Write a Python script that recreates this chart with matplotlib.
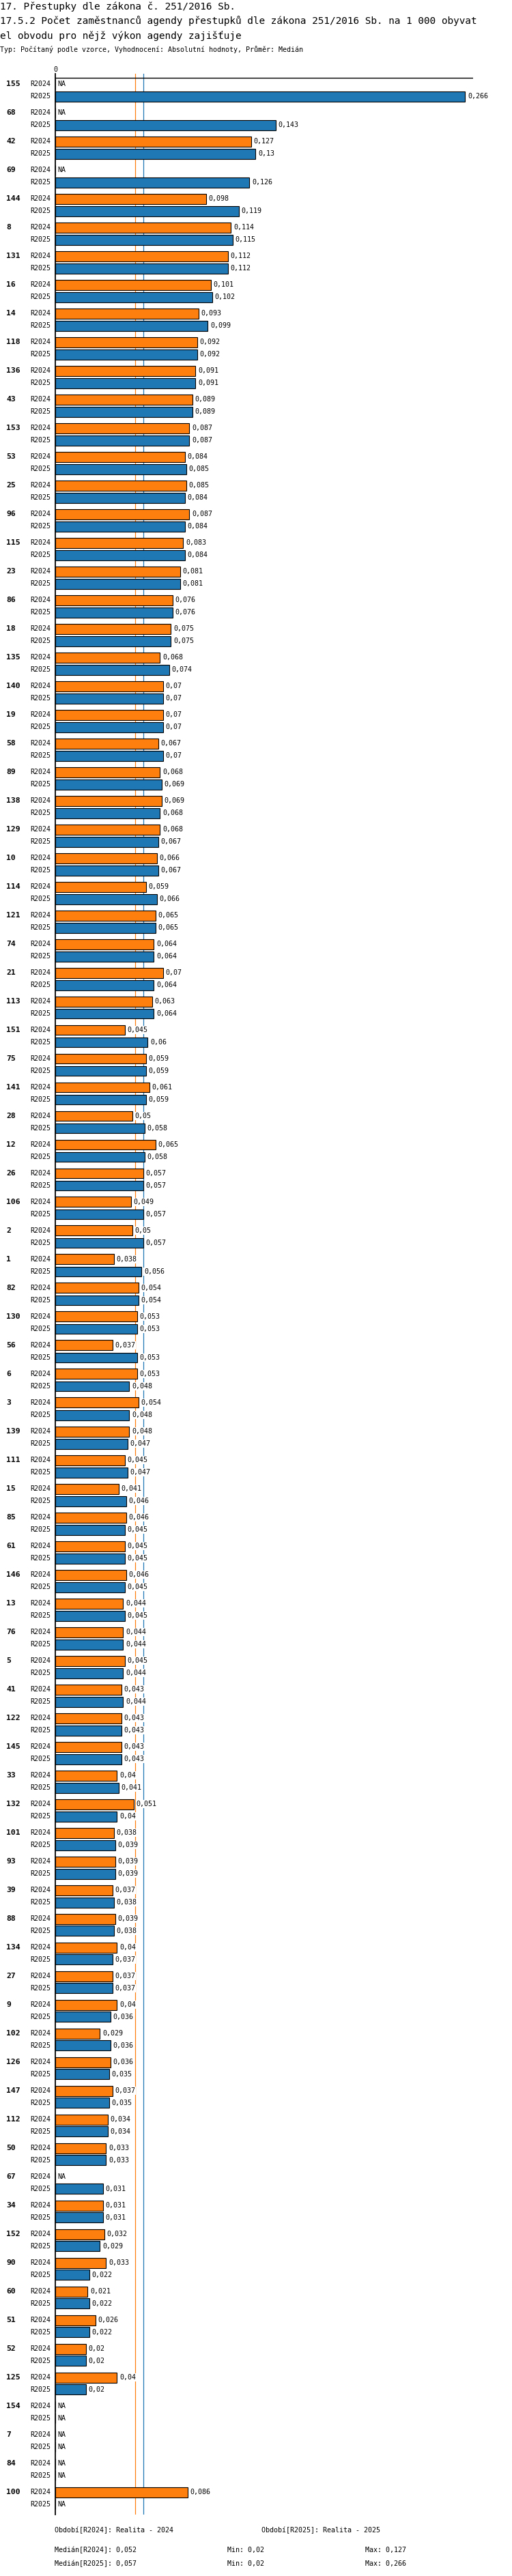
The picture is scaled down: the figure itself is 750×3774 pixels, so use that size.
import numpy as np
import matplotlib
matplotlib.use("Agg")
import matplotlib.pyplot as plt
from matplotlib import transforms

plt.rcParams["font.family"] = ["DejaVu Sans Mono", "DejaVu Sans"]

NA = np.nan

# obvody (ORP kódy) v pořadí grafu
categories = [
    "155", "68", "42", "69", "144", "8", "131", "16", "14", "118",
    "136", "43", "153", "53", "25", "96", "115", "23", "86", "18",
    "135", "140", "19", "58", "89", "138", "129", "10", "114", "121",
    "74", "21", "113", "151", "75", "141", "28", "12", "26", "106",
    "2", "1", "82", "130", "56", "6", "3", "139", "111", "15",
    "85", "61", "146", "13", "76", "5", "41", "122", "145", "33",
    "132", "101", "93", "39", "88", "134", "27", "9", "102", "126",
    "147", "112", "50", "67", "34", "152", "90", "60", "51", "52",
    "125", "154", "7", "84", "100",
]

r2024 = [
    NA, NA, 0.127, NA, 0.098, 0.114, 0.112, 0.101, 0.093, 0.092,
    0.091, 0.089, 0.087, 0.084, 0.085, 0.087, 0.083, 0.081, 0.076, 0.075,
    0.068, 0.07, 0.07, 0.067, 0.068, 0.069, 0.068, 0.066, 0.059, 0.065,
    0.064, 0.07, 0.063, 0.045, 0.059, 0.061, 0.05, 0.065, 0.057, 0.049,
    0.05, 0.038, 0.054, 0.053, 0.037, 0.053, 0.054, 0.048, 0.045, 0.041,
    0.046, 0.045, 0.046, 0.044, 0.044, 0.045, 0.043, 0.043, 0.043, 0.04,
    0.051, 0.038, 0.039, 0.037, 0.039, 0.04, 0.037, 0.04, 0.029, 0.036,
    0.037, 0.034, 0.033, NA, 0.031, 0.032, 0.033, 0.021, 0.026, 0.02,
    0.04, NA, NA, NA, 0.086,
]

r2025 = [
    0.266, 0.143, 0.13, 0.126, 0.119, 0.115, 0.112, 0.102, 0.099, 0.092,
    0.091, 0.089, 0.087, 0.085, 0.084, 0.084, 0.084, 0.081, 0.076, 0.075,
    0.074, 0.07, 0.07, 0.07, 0.069, 0.068, 0.067, 0.067, 0.066, 0.065,
    0.064, 0.064, 0.064, 0.06, 0.059, 0.059, 0.058, 0.058, 0.057, 0.057,
    0.057, 0.056, 0.054, 0.053, 0.053, 0.048, 0.048, 0.047, 0.047, 0.046,
    0.045, 0.045, 0.045, 0.045, 0.044, 0.044, 0.044, 0.043, 0.043, 0.041,
    0.04, 0.039, 0.039, 0.038, 0.038, 0.037, 0.037, 0.036, 0.036, 0.035,
    0.035, 0.034, 0.033, 0.031, 0.031, 0.029, 0.022, 0.022, 0.022, 0.02,
    0.02, NA, NA, NA, NA,
]

median_2024 = 0.052
median_2025 = 0.057

title_lines = [
    "17. Přestupky dle zákona č. 251/2016 Sb.",
    "17.5.2 Počet zaměstnanců agendy přestupků dle zákona 251/2016 Sb. na 1 000 obyvat",
    "el obvodu pro nějž výkon agendy zajišťuje",
]
subtitle = "Typ: Počítaný podle vzorce, Vyhodnocení: Absolutní hodnoty, Průměr: Medián"

C24 = "#ff7f0e"
C25 = "#1f77b4"

W, H = 750, 3774


def fx(px):
    return px / W


def fy(py):
    return 1 - py / H


def yv(py):
    # pixel row -> group units (group i centred at 132 + 42 i)
    return (py - 132) / 42.0


def fmt(v):
    return f"{v:.3f}".rstrip("0").replace(".", ",")


fig = plt.figure(figsize=(W / 100, H / 100), dpi=100)
ax_top, ax_bot, ax_l, ax_r = 108, 3684, 81, 693
ax = fig.add_axes([fx(ax_l), fy(ax_bot), fx(ax_r) - fx(ax_l), (ax_bot - ax_top) / H])

xmax = (ax_r - ax_l) / 2257.0
ax.set_xlim(0, xmax)
ax.set_ylim(yv(ax_bot), yv(ax_top))

for s in ["top", "right", "bottom"]:
    ax.spines[s].set_visible(False)
ax.spines["left"].set_linewidth(1.3)
ax.spines["left"].set_zorder(5)
ax.set_xticks([])
ax.set_yticks([])

ax.axhline(yv(114), color="black", lw=1.0, zorder=4)
ax.axvline(median_2024, color=C24, lw=0.9, zorder=1)
ax.axvline(median_2025, color=C25, lw=0.9, zorder=1)
ax.text(0, yv(102), "0", ha="center", va="center", fontsize=7.2, clip_on=False)

idx = np.arange(len(categories))
off = 9 / 42.0
bh = 15 / 42.0
v24 = np.array(r2024, dtype=float)
v25 = np.array(r2025, dtype=float)

ax.barh(idx - off, np.nan_to_num(v24), height=bh, color=C24, edgecolor="black",
        linewidth=0.8, zorder=2)
ax.barh(idx + off, np.nan_to_num(v25), height=bh, color=C25, edgecolor="black",
        linewidth=0.8, zorder=2)

lab_tr = transforms.blended_transform_factory(fig.transFigure, ax.transData)
na_tr = ax.transData + transforms.ScaledTranslation(3 / 100, 0, fig.dpi_scale_trans)
box = dict(facecolor="white", edgecolor="none", pad=0.6)

for i, cat in enumerate(categories):
    ax.text(fx(9.5), i - off, cat, transform=lab_tr, ha="left", va="center",
            fontsize=8.2, fontweight="bold")
    for v, yy, name in ((v24[i], i - off, "R2024"), (v25[i], i + off, "R2025")):
        ax.text(fx(74.5), yy, name, transform=lab_tr, ha="right", va="center",
                fontsize=7.2)
        if np.isnan(v):
            ax.text(0, yy, "NA", ha="left", va="center", fontsize=7.2,
                    zorder=6, transform=na_tr)
        else:
            ax.annotate(fmt(v), xy=(v, yy), xytext=(2.6, 0), textcoords="offset points",
                        ha="left", va="center", fontsize=7.2, bbox=box, zorder=6,
                        annotation_clip=False)

# titles
fig.text(fx(0), fy(9.5), title_lines[0], ha="left", va="center", fontsize=10.4)
fig.text(fx(0), fy(31), title_lines[1], ha="left", va="center", fontsize=10.4)
fig.text(fx(0), fy(53), title_lines[2], ha="left", va="center", fontsize=10.4)
fig.text(fx(0), fy(73), subtitle, ha="left", va="center", fontsize=7.2)

# footer
fig.text(fx(80), fy(3707), "Období[R2024]: Realita - 2024", ha="left", va="center", fontsize=7.2)
fig.text(fx(383), fy(3707), "Období[R2025]: Realita - 2025", ha="left", va="center", fontsize=7.2)
valid24 = v24[~np.isnan(v24)]
valid25 = v25[~np.isnan(v25)]
for py, name, vals, med in ((3736, "R2024", valid24, median_2024),
                            (3756, "R2025", valid25, median_2025)):
    fig.text(fx(80), fy(py), f"Medián[{name}]: {fmt(med)}", ha="left", va="center", fontsize=7.2)
    fig.text(fx(333), fy(py), f"Min: {fmt(vals.min())}", ha="left", va="center", fontsize=7.2)
    fig.text(fx(535), fy(py), f"Max: {fmt(vals.max())}", ha="left", va="center", fontsize=7.2)

fig.savefig("out.png", dpi=100)
